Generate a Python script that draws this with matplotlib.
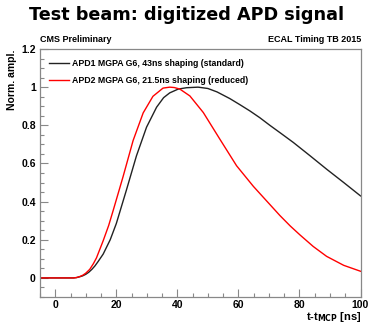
import matplotlib
matplotlib.use("Agg")
import matplotlib.pyplot as plt
from matplotlib.ticker import MultipleLocator

# APD1, 43ns shaping (standard)
t_std = [-5, 0, 5, 6, 7, 8, 9, 10, 11, 12, 13, 14, 15.7, 18, 20, 23.3, 26.6, 29.9,
         33.2, 35.5, 37.5, 40.3, 43, 46.8, 50, 53, 57.2, 60.5, 63.8, 67, 70.3, 74,
         78, 83.5, 88.9, 94.5, 100]
v_std = [0, 0, 0, 0, 0.002, 0.006, 0.011, 0.019, 0.03, 0.045, 0.063, 0.085, 0.125, 0.2,
         0.285, 0.46, 0.64, 0.79, 0.895, 0.945, 0.97, 0.99, 0.997, 1.0, 0.993, 0.975,
         0.94, 0.908, 0.875, 0.84, 0.80, 0.757, 0.71, 0.64, 0.57, 0.50, 0.43]

# APD2, 21.5ns shaping (reduced)
t_red = [-5, 0, 5, 6, 7, 8, 9, 10, 11.3, 12.5, 13.5, 15.7, 17.5, 19, 22.2, 25.5, 28.8,
         32, 35.3, 37.5, 39, 40.8, 44.1, 48.5, 53.9, 59.4, 64.9, 67, 70.3, 73.6,
         77, 80.2, 84.5, 88.9, 94.5, 100]
v_red = [0, 0, 0, 0, 0.002, 0.007, 0.014, 0.025, 0.045, 0.075, 0.105, 0.195, 0.275, 0.355,
         0.53, 0.72, 0.865, 0.952, 0.995, 1.0, 0.998, 0.99, 0.954, 0.867, 0.728, 0.588,
         0.48, 0.443, 0.385, 0.327, 0.272, 0.225, 0.165, 0.113, 0.066, 0.035]

fig = plt.figure(figsize=(3.7, 3.24), dpi=100)
ax = fig.add_axes([40 / 370, 1 - 297 / 324, 320.5 / 370, 248 / 324])

ax.plot(t_std, v_std, color="#222222", lw=1.0,
        label="APD1 MGPA G6, 43ns shaping (standard)")
ax.plot(t_red, v_red, color="red", lw=1.0,
        label="APD2 MGPA G6, 21.5ns shaping (reduced)")

ax.set_xlim(-5, 100)
ax.set_ylim(-0.1, 1.2)
ax.xaxis.set_major_locator(MultipleLocator(20))
ax.xaxis.set_minor_locator(MultipleLocator(5))
ax.yaxis.set_major_locator(MultipleLocator(0.2))
ax.yaxis.set_minor_locator(MultipleLocator(0.05))
ax.set_yticks([0, 0.2, 0.4, 0.6, 0.8, 1.0, 1.2])
ax.set_yticklabels(["0", "0.2", "0.4", "0.6", "0.8", "1", "1.2"])
ax.tick_params(which="both", direction="in", color="#888888")
ax.tick_params(which="major", length=6, width=0.8, pad=3)
ax.tick_params(axis="x", which="major", pad=2)
ax.tick_params(which="minor", length=3, width=0.8)
for lab in ax.get_xticklabels() + ax.get_yticklabels():
    lab.set_fontfamily("Liberation Sans")
    lab.set_fontweight("bold")
    lab.set_fontsize(7.5)
for s in ax.spines.values():
    s.set_color("#888888")
    s.set_linewidth(0.9)

fig.text(40 / 370, 1 - 40 / 324, "CMS Preliminary", family="Liberation Sans",
         weight="bold", fontsize=6.5, ha="left", va="center")
fig.text(361 / 370, 1 - 40 / 324, "ECAL Timing TB 2015", family="Liberation Sans",
         weight="bold", fontsize=6.5, ha="right", va="center")
fig.text(187 / 370, 1 - 15 / 324, "Test beam: digitized APD signal",
         family="DejaVu Sans", weight="bold", fontsize=12.7, ha="center", va="center")
fig.text(12 / 370, 1 - 49 / 324, "Norm. ampl.", family="Liberation Sans",
         weight="bold", fontsize=7.5, rotation=90, ha="center", va="top")
fig.text(361 / 370, 1 - 323.5 / 324, r"t-t$_{\mathbf{MCP}}$ [ns]",
         family="Liberation Sans", weight="bold", fontsize=8, ha="right", va="bottom")

ax.legend(loc="upper left", bbox_to_anchor=(0.005, 0.99), frameon=False,
          prop={"family": "Liberation Sans", "weight": "bold", "size": 6.3},
          handlelength=2.2, handletextpad=0.4, labelspacing=0.85)

fig.savefig("out.png", dpi=100)
